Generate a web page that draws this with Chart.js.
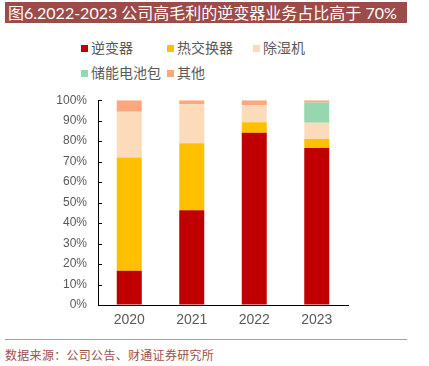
<!DOCTYPE html>
<html>
<head>
<meta charset="utf-8">
<script src="https://cdn.jsdelivr.net/npm/chart.js@4"></script>
<style>
  body { margin: 0; width: 429px; height: 366px; background: #fff; position: relative; overflow: hidden; }
  .title { position: absolute; left: 5px; top: 2px; width: 402px; height: 21px; background: #9c4b48;
           color: #fff; font: 16px "Lato", "Noto Sans CJK SC", sans-serif; line-height: 21px; padding-left: 3px; box-sizing: border-box; white-space: nowrap; }
  .legend { position: absolute; left: 0; top: 0; font: 14px "Noto Sans CJK SC", sans-serif; color: #595959; }
  .legend span { position: absolute; white-space: nowrap; line-height: 18px; }
  .legend i { display: inline-block; width: 7px; height: 7px; margin-right: 3px; vertical-align: 1px; }
  .wrap { position: absolute; left: 0; top: 82px; width: 360px; height: 249px; }
  .rule { position: absolute; left: 5px; top: 339px; width: 402px; height: 1px; background: #cc928e; }
  .source { position: absolute; left: 5px; top: 346px; font: 12px "Noto Sans CJK SC", serif; color: #a0504b; white-space: nowrap; letter-spacing: 0.3px; }
</style>
</head>
<body>
<div class="title">图6.2022-2023 公司高毛利的逆变器业务占比高于 70%</div>
<div class="legend" id="legend"></div>
<div class="wrap"><canvas id="chart" width="360" height="249"></canvas></div>
<div class="rule"></div>
<div class="source">数据来源：公司公告、财通证券研究所</div>
<script>
const years = ['2020', '2021', '2022', '2023']
const seriesNames = ['逆变器', '热交换器', '除湿机', '储能电池包', '其他']
const seriesColors = ['#c00000', '#ffc000', '#fcdbbb', '#96d7b0', '#fca77d']
const inverter = [16.7, 46.3, 84.1, 76.7]
const heatExchanger = [55.3, 32.7, 5.1, 4.4]
const dehumidifier = [22.3, 19.0, 8.3, 7.9]
const battery = [0, 0, 0, 9.9]
const other = [5.7, 2.0, 2.5, 1.1]
const seriesValues = [inverter, heatExchanger, dehumidifier, battery, other]

// legend positions (html, two rows)
const legendSpots = [[81, 38], [167, 38], [253, 38], [81, 63], [167, 63]]
const legendBox = document.getElementById('legend')
seriesNames.forEach((name, i) => {
    const s = document.createElement('span')
    s.style.left = legendSpots[i][0] + 'px'
    s.style.top = legendSpots[i][1] + 'px'
    s.innerHTML = '<i style="background:' + seriesColors[i] + '"></i>' + name
    legendBox.appendChild(s)
})

const innerTicks = {
    id: 'innerTicks',
    afterDraw(chart) {
        const y = chart.scales.y
        const ctx = chart.ctx
        ctx.save()
        ctx.strokeStyle = '#000'
        ctx.lineWidth = 1
        for (let v = 0; v <= 100; v += 10) {
            const py = Math.round(y.getPixelForValue(v)) + 0.5
            ctx.beginPath()
            ctx.moveTo(chart.chartArea.left, py)
            ctx.lineTo(chart.chartArea.left + 4, py)
            ctx.stroke()
        }
        ctx.restore()
    }
}

const chart = new Chart(
    document.getElementById('chart'),
    {
        type: 'bar',
        data: {
            labels: years,
            datasets: seriesNames.map((name, i) => ({
                label: name,
                data: seriesValues[i],
                backgroundColor: seriesColors[i],
                barPercentage: 0.8,
                categoryPercentage: 0.5,
            })),
        },
        options: {
            responsive: false,
            animation: false,
            maintainAspectRatio: false,
            layout: { padding: { left: 0, top: 2, right: 12, bottom: 0 } },
            scales: {
                x: {
                    stacked: true,
                    grid: { drawOnChartArea: false, drawTicks: false },
                    border: { color: '#000', width: 1 },
                    afterFit: scale => { scale.height = 26 },
                    ticks: {
                        color: '#595959',
                        padding: 7,
                        font: { family: 'Liberation Sans', size: 14 },
                    },
                },
                y: {
                    stacked: true,
                    min: 0,
                    max: 100,
                    grid: { drawOnChartArea: false, drawTicks: false },
                    border: { color: '#000', width: 1 },
                    afterFit: scale => { scale.width = 98 },
                    ticks: {
                        stepSize: 10,
                        autoSkip: false,
                        color: '#595959',
                        padding: 11,
                        font: { family: 'Liberation Sans', size: 12 },
                        callback: v => v + '%',
                    },
                },
            },
            plugins: {
                legend: { display: false },
                tooltip: { enabled: false },
            },
        },
        plugins: [innerTicks],
    }
)
</script>
</body>
</html>
